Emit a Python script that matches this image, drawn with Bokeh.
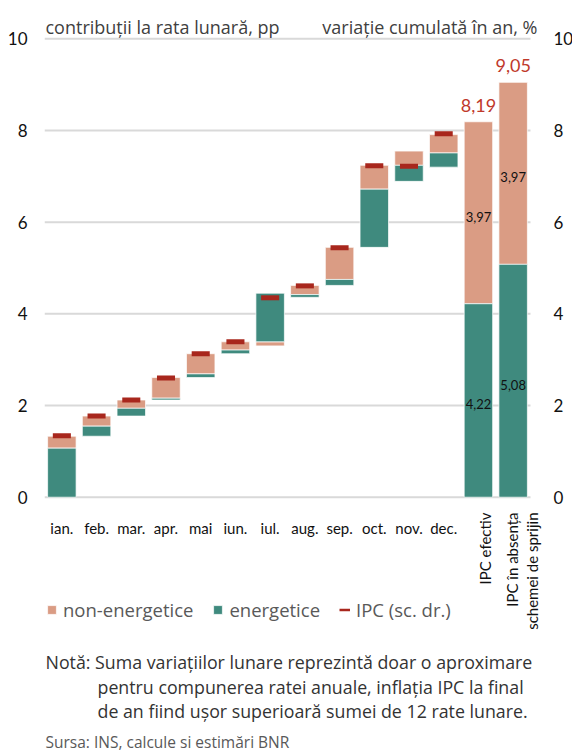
import math
from bokeh.plotting import figure
from bokeh.models import (ColumnDataSource, Range1d, FixedTicker, Legend, LegendItem)
from bokeh.embed import file_html
from bokeh.resources import INLINE
from bokeh.core.properties import value

# ---------------- data ----------------
months = ["ian.", "feb.", "mar.", "apr.", "mai", "iun.", "iul.", "aug.", "sep.", "oct.", "nov.", "dec."]
energy = [1.07, 0.22, 0.17, 0.04, 0.08, 0.08, 1.06, 0.06, 0.13, 1.27, -0.35, 0.31]
non_energy = [0.26, 0.22, 0.18, 0.45, 0.44, 0.18, -0.09, 0.20, 0.70, 0.52, 0.31, 0.40]
ipc = [1.34, 1.77, 2.12, 2.60, 3.13, 3.39, 4.35, 4.61, 5.44, 7.23, 7.22, 7.93]

summary_cats = ["IPC efectiv", "IPC în absența schemei de sprijin"]
summary_label_lines = [["IPC efectiv"], ["IPC în absența", "schemei de sprijin"]]
summary_energy = [4.22, 5.08]
summary_non_energy = [3.97, 3.97]
summary_total = [8.19, 9.05]

y_ticks = [0, 2, 4, 6, 8, 10]

legend_labels = ["non-energetice", "energetice", "IPC (sc. dr.)"]
header_left = "contribuții la rata lunară, pp"
header_right = "variație cumulată în an, %"
note_lines = ["Notă: Suma variațiilor lunare reprezintă  doar o aproximare",
              "pentru compunerea ratei anuale, inflația IPC la final",
              "de an fiind ușor superioară sumei de 12 rate lunare."]
source_text = "Sursa: INS, calcule si estimări BNR"

# ---------------- styling / geometry ----------------
TEAL = "#3F8A7E"
SALMON = "#DA9C84"
RED = "#A8271D"
RED_TXT = "#C0392B"
INK = "#111111"

W, H = 572, 751
BORDER_L, BORDER_R = 44, 0
PX_X = 486 / 14.0      # pixels per category
PX_Y = 45.84           # pixels per unit
X0_PX, Y0_PX = 44.0, 496.7   # canvas position of the category origin / value 0


def xd(px):
    return (px - X0_PX) / PX_X


def yd(py):
    return (Y0_PX - py) / PX_Y


factors = months + summary_cats
xpos = {c: i + 0.5 for i, c in enumerate(factors)}

# ---------------- build stacked (waterfall) segments ----------------
e_x, e_b, e_t = [], [], []
n_x, n_b, n_t = [], [], []
base = 0.0
for m, e, n in zip(months, energy, non_energy):
    up = base
    down = base
    for val, xs, bs, ts in ((e, e_x, e_b, e_t), (n, n_x, n_b, n_t)):
        xs.append(xpos[m])
        if val >= 0:
            bs.append(up); ts.append(up + val); up += val
        else:
            ts.append(down); bs.append(down + val); down += val
    base += e + n
for c, e, n in zip(summary_cats, summary_energy, summary_non_energy):
    e_x.append(xpos[c]); e_b.append(0.0); e_t.append(e)
    n_x.append(xpos[c]); n_b.append(e); n_t.append(e + n)

src_e = ColumnDataSource(dict(x=e_x, bottom=e_b, top=e_t))
src_n = ColumnDataSource(dict(x=n_x, bottom=n_b, top=n_t))
src_ipc = ColumnDataSource(dict(x=[xpos[m] for m in months], y=ipc))


def fmt(v):
    return f"{v:.2f}".replace(".", ",")


src_vals = ColumnDataSource(dict(
    x=[xpos[c] for c in summary_cats] * 2,
    y=[e / 2 for e in summary_energy] + [e + n / 2 for e, n in zip(summary_energy, summary_non_energy)],
    text=[fmt(v) for v in summary_energy] + [fmt(v) for v in summary_non_energy],
))
src_tot = ColumnDataSource(dict(x=[xpos[c] for c in summary_cats], y=summary_total,
                                text=[fmt(v) for v in summary_total]))

# ---------------- figure ----------------
frame_w = W - BORDER_L - BORDER_R
p = figure(width=W, height=H,
           x_range=Range1d(0, frame_w / PX_X),
           y_range=Range1d(yd(H), yd(0)),
           output_backend="svg", toolbar_location=None,
           min_border_left=BORDER_L, min_border_right=BORDER_R,
           min_border_top=0, min_border_bottom=0)
p.outline_line_color = None
p.xgrid.visible = False
p.ygrid.visible = False
p.xaxis.visible = False

# grid lines across the category span
p.segment(x0=[0] * len(y_ticks), x1=[len(factors)] * len(y_ticks), y0=y_ticks, y1=y_ticks,
          line_color="#D9D9D9", line_width=2)

r_n = p.vbar(x="x", bottom="bottom", top="top", width=0.82, source=src_n,
             fill_color=SALMON, line_color="white", line_width=1, line_alpha=0.7)
r_e = p.vbar(x="x", bottom="bottom", top="top", width=0.82, source=src_e,
             fill_color=TEAL, line_color="white", line_width=1, line_alpha=0.7)
p.rect(x="x", y="y", width=0.52, height=5, height_units="screen", source=src_ipc,
       fill_color=RED, line_color=None)
r_leg_ipc = p.line(x=[float("nan")] * 2, y=[float("nan")] * 2, line_color=RED, line_width=2.5)

p.text(x="x", y="y", text="text", source=src_vals, text_align="center", text_baseline="middle",
       y_offset=4, text_font=value("Lato"), text_font_size="13px", text_color=INK)
p.text(x="x", y="y", text="text", source=src_tot, text_align="center", text_baseline="bottom",
       y_offset=-10, text_font=value("Lato"), text_font_size="18px", text_color=RED_TXT)

# left y axis (contributions)
ax = p.yaxis[0]
ax.ticker = FixedTicker(ticks=y_ticks)
ax.axis_line_color = None
ax.major_tick_line_color = None
ax.minor_tick_line_color = None
ax.major_tick_out = 0
ax.minor_tick_out = 0
ax.major_tick_in = 0
ax.minor_tick_in = 0
ax.major_label_standoff = 17
ax.major_label_text_font = "Lato"
ax.major_label_text_font_size = "17px"
ax.major_label_text_color = INK

# right-hand scale labels (same scale, "sc. dr.")
p.text(x=[xd(553)] * len(y_ticks), y=y_ticks, text=[str(t) for t in y_ticks],
       text_align="left", text_baseline="middle",
       text_font=value("Lato"), text_font_size="17px", text_color=INK)

# category labels under the bars
p.text(x=[xpos[m] for m in months], y=[yd(527)] * len(months), text=months,
       text_align="center", text_baseline="middle",
       text_font=value("Lato"), text_font_size="15px", text_color=INK)

# rotated labels of the two summary bars
rot_x, rot_t = [], []
for c, lines, offs in zip(summary_cats, summary_label_lines, [[0.18], [-0.03, 0.55]]):
    for line, o in zip(lines, offs):
        rot_x.append(xpos[c] + o)
        rot_t.append(line)
p.text(x=rot_x, y=[yd(512)] * len(rot_x), text=rot_t, angle=math.pi / 2,
       text_align="right", text_baseline="middle",
       text_font=value("Lato"), text_font_size="15px", text_color=INK)

# headers
p.text(x=[xd(45)], y=[yd(26)], text=[header_left], text_align="left", text_baseline="middle",
       text_font=value("Open Sans"), text_font_size="18px", text_color="#404040")
p.text(x=[xd(537)], y=[yd(26)], text=[header_right], text_align="right", text_baseline="middle",
       text_font=value("Open Sans"), text_font_size="18px", text_color="#404040")

# legend
legend = Legend(items=[LegendItem(label=legend_labels[0], renderers=[r_n]),
                       LegendItem(label=legend_labels[1], renderers=[r_e]),
                       LegendItem(label=legend_labels[2], renderers=[r_leg_ipc])],
                orientation="horizontal", location=(2, H - 622), glyph_width=11, glyph_height=11,
                spacing=19, label_standoff=6, padding=0, margin=0,
                border_line_color=None, background_fill_alpha=0,
                label_text_font="Open Sans", label_text_font_size="18.5px", label_text_color="#595959")
p.add_layout(legend, "center")

# note and source
p.text(x=[xd(45), xd(97), xd(97)], y=[yd(661), yd(686), yd(710)], text=note_lines,
       text_align="left", text_baseline="middle",
       text_font=value("Open Sans"), text_font_size="17.8px", text_color="#333333")
p.text(x=[xd(45)], y=[yd(741)], text=[source_text], text_align="left", text_baseline="middle",
       text_font=value("Open Sans"), text_font_size="15.5px", text_color="#595959")

open("out.html", "w").write(file_html(p, INLINE))
